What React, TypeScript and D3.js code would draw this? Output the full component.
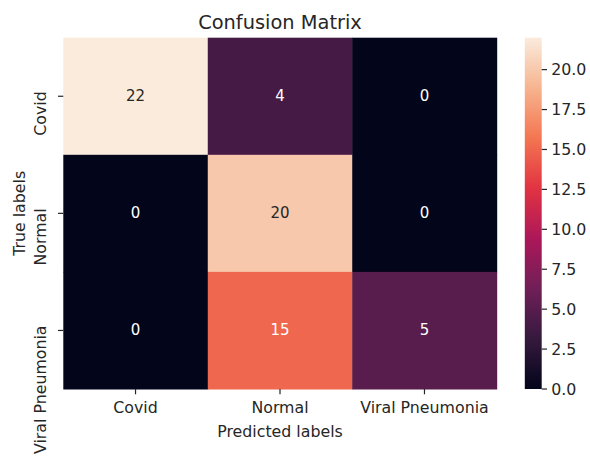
import React from "react";
import * as d3 from "d3";

// Confusion matrix data
const classes = ["Covid", "Normal", "Viral Pneumonia"];
const counts: number[][] = [
  [22, 4, 0],
  [0, 20, 0],
  [0, 15, 5],
];
const colorbarTicks = [0, 2.5, 5, 7.5, 10, 12.5, 15, 17.5, 20];

// Seaborn "rocket" colormap stops
const rocketStops = [0, 1 / 7, 2 / 7, 3 / 7, 4 / 7, 5 / 7, 6 / 7, 1];
const rocketColors = ["#03051a", "#35193e", "#701f57", "#ad1759", "#e13342", "#f37651", "#f6b48f", "#faebdd"];

const W = 590;
const H = 459;
const left = 63.3;
const right = 496.7;
const top = 37.7;
const bottom = 389;
const cbLeft = 524.8;
const cbRight = 541.7;
const FONT = "'DejaVu Sans', sans-serif";
const TEXT = "#262626";
const TICK_FS = 15.8;

export default function App() {
  const flat = counts.flat();
  const vmin = d3.min(flat) as number;
  const vmax = d3.max(flat) as number;

  const x = d3.scaleBand<string>().domain(classes).range([left, right]);
  const y = d3.scaleBand<string>().domain(classes).range([top, bottom]);

  const rocket = d3
    .scaleLinear<string>()
    .domain(rocketStops)
    .range(rocketColors)
    .interpolate(d3.interpolateRgb);
  const norm = d3.scaleLinear().domain([vmin, vmax]).range([0, 1]);
  const color = (v: number) => rocket(norm(v));
  const cbY = d3.scaleLinear().domain([vmin, vmax]).range([bottom, top]);

  const textColorFor = (v: number) => {
    const c = d3.rgb(color(v));
    const lin = (u: number) => {
      const s = u / 255;
      return s <= 0.03928 ? s / 12.92 : Math.pow((s + 0.055) / 1.055, 2.4);
    };
    const lum = 0.2126 * lin(c.r) + 0.7152 * lin(c.g) + 0.0722 * lin(c.b);
    return lum > 0.408 ? TEXT : "#ffffff";
  };

  const gradStops = d3.range(0, 1.0001, 1 / 64);

  return (
    <svg
      width={W}
      height={H}
      style={{ position: "absolute", left: 0, top: 0, background: "#fff" }}
      fontFamily={FONT}
    >
      <defs>
        <linearGradient id="cbGrad" x1="0" y1="1" x2="0" y2="0">
          {gradStops.map((t, i) => (
            <stop key={i} offset={t} stopColor={rocket(t)} />
          ))}
        </linearGradient>
      </defs>

      {/* Heatmap cells */}
      {counts.map((row, ri) =>
        row.map((v, ci) => (
          <g key={`${ri}-${ci}`}>
            <rect
              x={x(classes[ci])}
              y={y(classes[ri])}
              width={x.bandwidth() + 0.5}
              height={y.bandwidth() + 0.5}
              fill={color(v)}
            />
            <text
              x={(x(classes[ci]) as number) + x.bandwidth() / 2}
              y={(y(classes[ri]) as number) + y.bandwidth() / 2}
              textAnchor="middle"
              dominantBaseline="central"
              fontSize={15}
              fill={textColorFor(v)}
            >
              {v}
            </text>
          </g>
        ))
      )}

      {/* Title */}
      <text x={(left + right) / 2} y={28.5} textAnchor="middle" fontSize={19.4} fill={TEXT}>
        Confusion Matrix
      </text>

      {/* X axis ticks and labels */}
      {classes.map((c) => {
        const cx = (x(c) as number) + x.bandwidth() / 2;
        return (
          <g key={c}>
            <line x1={cx} x2={cx} y1={bottom} y2={bottom + 5.3} stroke={TEXT} strokeWidth={1.2} />
            <text x={cx} y={413} textAnchor="middle" fontSize={TICK_FS} fill={TEXT}>
              {c}
            </text>
          </g>
        );
      })}
      <text x={(left + right) / 2} y={437} textAnchor="middle" fontSize={TICK_FS} fill={TEXT}>
        Predicted labels
      </text>

      {/* Y axis ticks and labels */}
      {classes.map((c) => {
        const cy = (y(c) as number) + y.bandwidth() / 2;
        return (
          <g key={c}>
            <line x1={left - 5.3} x2={left} y1={cy} y2={cy} stroke={TEXT} strokeWidth={1.2} />
            <text
              transform={`translate(46,${cy - 5}) rotate(-90)`}
              textAnchor="end"
              fontSize={TICK_FS}
              fill={TEXT}
            >
              {c}
            </text>
          </g>
        );
      })}
      <text
        transform={`translate(25,${(top + bottom) / 2}) rotate(-90)`}
        textAnchor="middle"
        fontSize={TICK_FS}
        fill={TEXT}
      >
        True labels
      </text>

      {/* Colorbar */}
      <rect x={cbLeft} y={top} width={cbRight - cbLeft} height={bottom - top} fill="url(#cbGrad)" />
      {colorbarTicks.map((t) => (
        <g key={t}>
          <line x1={cbRight} x2={cbRight + 5.3} y1={cbY(t)} y2={cbY(t)} stroke={TEXT} strokeWidth={1.2} />
          <text x={cbRight + 9.5} y={cbY(t)} dominantBaseline="central" fontSize={TICK_FS} fill={TEXT}>
            {d3.format(".1f")(t)}
          </text>
        </g>
      ))}
    </svg>
  );
}
